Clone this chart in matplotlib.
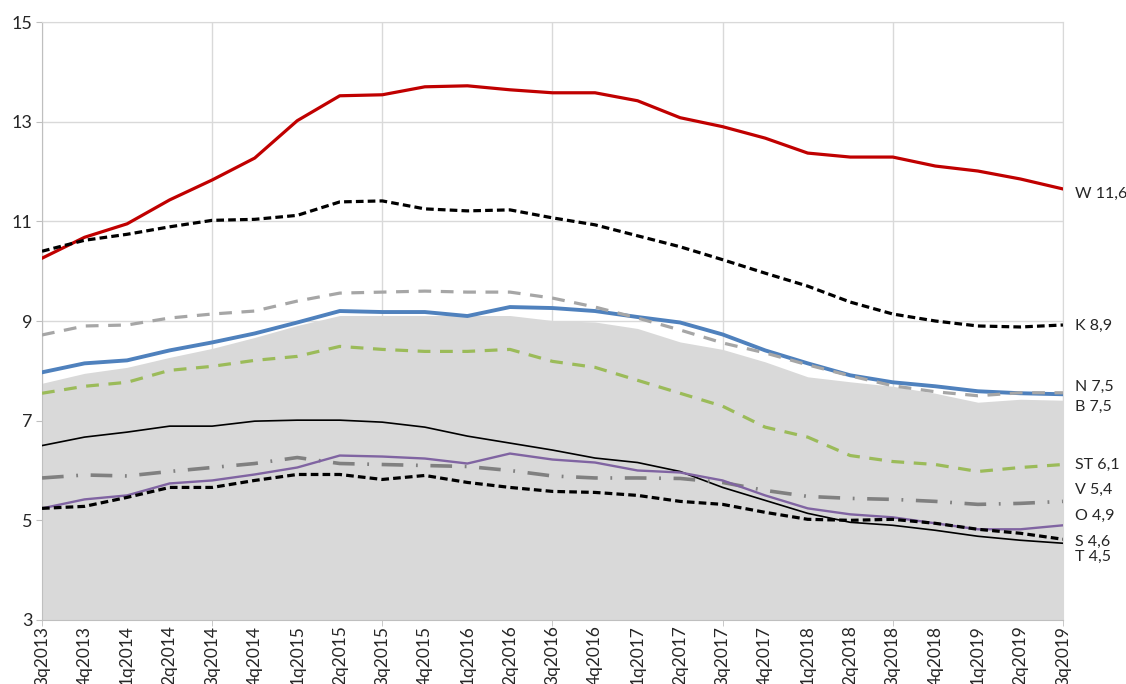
import numpy as np
import matplotlib
matplotlib.use("Agg")
import matplotlib.pyplot as plt
from matplotlib.ticker import FixedLocator

plt.rcParams['font.family'] = ['Lato', 'DejaVu Sans']

quarters = ['3q2013', '4q2013', '1q2014', '2q2014', '3q2014', '4q2014',
            '1q2015', '2q2015', '3q2015', '4q2015', '1q2016', '2q2016',
            '3q2016', '4q2016', '1q2017', '2q2017', '3q2017', '4q2017',
            '1q2018', '2q2018', '3q2018', '4q2018', '1q2019', '2q2019', '3q2019']

# shaded background series (no label)
area = [7.75, 7.95, 8.07, 8.27, 8.45, 8.67, 8.91, 9.11, 9.11, 9.11, 9.11, 9.11,
        9.01, 8.98, 8.85, 8.58, 8.43, 8.18, 7.88, 7.78, 7.69, 7.55, 7.37, 7.43, 7.41]

W = [10.26, 10.68, 10.95, 11.43, 11.83, 12.27, 13.02, 13.52, 13.54, 13.70, 13.72, 13.64,
     13.58, 13.58, 13.42, 13.08, 12.90, 12.67, 12.37, 12.29, 12.29, 12.11, 12.01, 11.85, 11.65]
K = [10.40, 10.62, 10.74, 10.89, 11.02, 11.04, 11.12, 11.39, 11.41, 11.25, 11.21, 11.23,
     11.07, 10.93, 10.71, 10.49, 10.23, 9.96, 9.70, 9.38, 9.14, 9.00, 8.90, 8.88, 8.92]
N = [8.72, 8.90, 8.92, 9.06, 9.14, 9.20, 9.40, 9.56, 9.58, 9.60, 9.58, 9.58,
     9.46, 9.28, 9.06, 8.82, 8.56, 8.36, 8.12, 7.90, 7.70, 7.58, 7.50, 7.56, 7.56]
B = [7.97, 8.15, 8.21, 8.41, 8.57, 8.75, 8.97, 9.20, 9.18, 9.18, 9.10, 9.28,
     9.26, 9.20, 9.08, 8.97, 8.73, 8.41, 8.15, 7.91, 7.77, 7.69, 7.59, 7.55, 7.53]
ST = [7.55, 7.69, 7.77, 8.01, 8.09, 8.21, 8.29, 8.49, 8.43, 8.39, 8.39, 8.43,
      8.19, 8.07, 7.81, 7.55, 7.29, 6.87, 6.67, 6.30, 6.18, 6.12, 5.98, 6.06, 6.12]
T = [6.50, 6.67, 6.77, 6.89, 6.89, 6.99, 7.01, 7.01, 6.97, 6.87, 6.69, 6.55,
     6.41, 6.25, 6.16, 5.98, 5.66, 5.40, 5.14, 4.96, 4.90, 4.80, 4.68, 4.60, 4.54]
V = [5.85, 5.91, 5.89, 5.98, 6.06, 6.14, 6.26, 6.14, 6.12, 6.10, 6.08, 6.00,
     5.89, 5.85, 5.85, 5.84, 5.76, 5.60, 5.48, 5.44, 5.42, 5.38, 5.32, 5.34, 5.38]
O = [5.24, 5.42, 5.50, 5.74, 5.80, 5.92, 6.06, 6.30, 6.28, 6.24, 6.14, 6.34,
     6.22, 6.16, 6.00, 5.96, 5.80, 5.50, 5.24, 5.12, 5.06, 4.94, 4.82, 4.82, 4.90]
S = [5.24, 5.28, 5.46, 5.66, 5.66, 5.80, 5.92, 5.92, 5.82, 5.90, 5.76, 5.66,
     5.58, 5.56, 5.50, 5.38, 5.32, 5.16, 5.02, 5.00, 5.02, 4.94, 4.82, 4.74, 4.62]

end_labels = ['W 11,6', 'K 8,9', 'N 7,5', 'B 7,5', 'ST 6,1', 'V 5,4', 'O 4,9', 'S 4,6', 'T 4,5']
label_y = [11.55, 8.91, 7.68, 7.28, 6.12, 5.62, 5.08, 4.56, 4.26]

x = np.arange(len(quarters))

fig = plt.figure(figsize=(11.26, 6.84), dpi=100)
ax = fig.add_axes([0.0373, 0.0936, 0.9067, 0.8742])

ax.fill_between(x, 3, area, color='#d9d9d9', lw=0, zorder=1)

ax.plot(x, W, color='#c00000', lw=2.3, zorder=5)
ax.plot(x, K, color='black', lw=2.3, ls=(0, (2.4, 1.3)), zorder=5)
ax.plot(x, B, color='#4f81bd', lw=2.8, zorder=4)
ax.plot(x, N, color='#a6a6a6', lw=2.3, ls=(0, (4, 3)), zorder=5)
ax.plot(x, ST, color='#9bbb59', lw=2.3, ls=(0, (4, 3)), zorder=5)
ax.plot(x, T, color='black', lw=1.2, zorder=5)
ax.plot(x, V, color='#808080', lw=2.6, ls=(0, (6, 3.5, 0.5, 3.5)), zorder=5)
ax.plot(x, O, color='#8064a2', lw=1.7, zorder=5)
ax.plot(x, S, color='black', lw=2.3, ls=(0, (2.4, 1.3)), zorder=5)

for txt, yy in zip(end_labels, label_y):
    ax.text(len(quarters) - 1 + 0.28, yy, txt, fontsize=11.5, color='#262626',
            va='center', ha='left', clip_on=False)

ax.set_xlim(0, len(quarters) - 1)
ax.set_ylim(3, 15)
ax.set_yticks(np.arange(3, 16, 2))
ax.set_yticklabels([str(v) for v in range(3, 16, 2)], fontsize=13, color='#262626')

ax.set_xticks(x)
ax.set_xticklabels(quarters, rotation=90, fontsize=12.5, color='#262626')
ax.xaxis.set_minor_locator(FixedLocator(x[::4]))
ax.xaxis.remove_overlapping_locs = False
ax.tick_params(axis='x', which='major', length=0, pad=4)
ax.tick_params(axis='x', which='minor', length=4, color='#bfbfbf')
ax.tick_params(axis='y', length=4, color='#bfbfbf', pad=3)

ax.grid(axis='y', color='#d9d9d9', lw=1, zorder=0)
ax.grid(axis='x', which='minor', color='#d9d9d9', lw=1, zorder=0)
ax.set_axisbelow(True)
for side in ['top', 'right']:
    ax.spines[side].set_color('#d9d9d9')
for side in ['left', 'bottom']:
    ax.spines[side].set_color('#bfbfbf')

fig.savefig('out.png', dpi=100)
